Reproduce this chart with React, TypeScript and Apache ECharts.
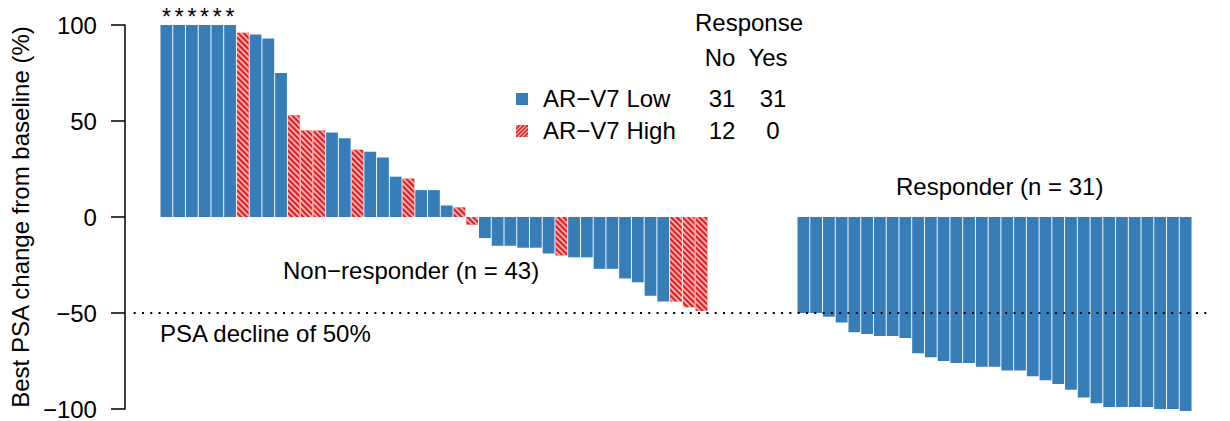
import React, { useEffect, useRef } from "react";
import * as echarts from "echarts";

// ---- data ----
const nonResponderValues = [
  100, 100, 100, 100, 100, 100, 96, 95, 93, 75,
  53, 45, 45, 44, 41, 35, 34, 31, 21, 20,
  14, 14, 6, 5, -4, -11, -15, -15, -16, -16,
  -19, -20, -21, -21, -27, -27, -32, -34, -41, -44,
  -44, -47, -49,
];
const nonResponderARV7 = [
  "Low", "Low", "Low", "Low", "Low", "Low", "High", "Low", "Low", "Low",
  "High", "High", "High", "Low", "Low", "High", "Low", "Low", "Low", "High",
  "Low", "Low", "Low", "High", "High", "Low", "Low", "Low", "Low", "Low",
  "Low", "High", "Low", "Low", "Low", "Low", "Low", "Low", "Low", "Low",
  "High", "High", "High",
];
const responderValues = [
  -50, -50, -52, -55, -60, -61, -62, -62, -63, -71,
  -73, -75, -76, -76, -78, -78, -80, -80, -83, -85,
  -87, -90, -94, -97, -99, -99, -99, -99, -100, -100,
  -101,
];
const gapSlots = 7;
const starredCount = 6;
const yMin = -100;
const yMax = 100;
const yInterval = 50;
const thresholdValue = -50;
const legendLabels = ["AR−V7 Low", "AR−V7 High"];
const legendNo = [31, 12];
const legendYes = [31, 0];
const responseHeaders = ["No", "Yes"];

const BLUE = "#377EB8";
const RED = "#E41A1C";
const FONT = "'Liberation Sans', Arial, Helvetica, sans-serif";
const FS = 24;

type Slot = { v: number; high: boolean } | null;

export default function App() {
  const ref = useRef<HTMLDivElement>(null);

  useEffect(() => {
    if (!ref.current) return;
    const chart = echarts.init(ref.current, undefined, { renderer: "svg" });

    const slots: Slot[] = [
      ...nonResponderValues.map((v, i) => ({ v, high: nonResponderARV7[i] === "High" })),
      ...Array(gapSlots).fill(null),
      ...responderValues.map((v) => ({ v, high: false })),
    ];
    const categories = slots.map((_, i) => String(i + 1));
    const blueData = slots.map((s, i) => {
      if (!s || s.high) return null;
      if (i < starredCount) {
        return {
          value: s.v,
          label: {
            show: true,
            position: "top",
            formatter: "*",
            distance: -3,
            fontSize: 23,
            color: "#000",
            fontFamily: FONT,
          },
        };
      }
      return s.v;
    });
    const redData = slots.map((s) => (s && s.high ? s.v : null));

    const txt = (text: string, x: number, y: number, align = "left") => ({
      type: "text",
      x,
      y,
      style: {
        text,
        fill: "#000",
        font: `${FS}px ${FONT}`,
        align,
        verticalAlign: "middle",
      },
    });

    // hatched legend square
    const hx = 516, hy = 125, hs = 12;
    const stripes: any[] = [];
    for (let c = 2; c < 2 * hs; c += 4) {
      const u0 = Math.max(0, c - hs);
      const u1 = Math.min(hs, c);
      stripes.push({
        type: "line",
        shape: { x1: hx + u0, y1: hy + (c - u0), x2: hx + u1, y2: hy + (c - u1) },
        style: { stroke: "rgba(255,255,255,0.65)", lineWidth: 1.2 },
      });
    }

    const graphic: any[] = [
      txt("Responder (n = 31)", 896, 186),
      txt("Non−responder (n = 43)", 283, 270),
      txt("PSA decline of 50%", 160, 333),
      txt("Response", 749, 22, "center"),
      txt(responseHeaders[0], 720, 57, "center"),
      txt(responseHeaders[1], 768, 57, "center"),
      { type: "rect", shape: { x: 516, y: 93, width: 12, height: 12 }, style: { fill: BLUE } },
      txt(legendLabels[0], 543, 98),
      txt(String(legendNo[0]), 722, 98, "center"),
      txt(String(legendYes[0]), 773, 98, "center"),
      { type: "rect", shape: { x: hx, y: hy, width: hs, height: hs }, style: { fill: RED } },
      ...stripes,
      txt(legendLabels[1], 543, 130),
      txt(String(legendNo[1]), 722, 130, "center"),
      txt(String(legendYes[1]), 773, 130, "center"),
    ];

    chart.setOption({
      animation: false,
      grid: [
        { left: 160, right: 38, top: 25, bottom: 12 },
        { left: 118, right: 18, top: 25, bottom: 12 },
      ],
      xAxis: [
        { type: "category", gridIndex: 0, data: categories, show: false },
        { type: "value", gridIndex: 1, min: 0, max: 1, show: false },
      ],
      yAxis: [
        { type: "value", gridIndex: 0, min: yMin, max: yMax, interval: yInterval, show: false },
        {
          type: "value",
          gridIndex: 1,
          min: yMin,
          max: yMax,
          interval: yInterval,
          name: "Best PSA change from baseline (%)",
          nameLocation: "middle",
          nameGap: 91,
          nameTextStyle: { fontSize: FS, color: "#000", fontFamily: FONT },
          axisLine: { show: true, lineStyle: { color: "#000", width: 1.5 } },
          axisTick: { show: true, length: 14, lineStyle: { color: "#000", width: 1.5 } },
          axisLabel: {
            fontSize: FS,
            color: "#000",
            fontFamily: FONT,
            margin: 28,
            formatter: (v: number) => String(v).replace("-", "−"),
          },
          splitLine: { show: false },
        },
      ],
      series: [
        {
          type: "bar",
          xAxisIndex: 0,
          yAxisIndex: 0,
          data: blueData,
          barWidth: 11.8,
          barGap: "-100%",
          clip: false,
          itemStyle: { color: BLUE },
          z: 2,
        },
        {
          type: "bar",
          xAxisIndex: 0,
          yAxisIndex: 0,
          data: redData,
          barWidth: 11.8,
          barGap: "-100%",
          clip: false,
          itemStyle: {
            color: RED,
            decal: {
              symbol: "rect",
              symbolSize: 1,
              dashArrayX: [1, 0],
              dashArrayY: [1.2, 1.8],
              rotation: Math.PI / 4,
              color: "rgba(255,255,255,0.65)",
            },
          },
          z: 2,
        },
        {
          type: "line",
          xAxisIndex: 1,
          yAxisIndex: 1,
          data: [
            [0.008, thresholdValue],
            [1, thresholdValue],
          ],
          symbol: "none",
          lineStyle: { color: "#000", width: 2, type: [2, 6.3] },
          z: 5,
        },
      ],
      graphic,
    });

    return () => chart.dispose();
  }, []);

  return (
    <div
      ref={ref}
      style={{ position: "fixed", left: 0, top: 0, width: 1230, height: 421, background: "#fff" }}
    />
  );
}
